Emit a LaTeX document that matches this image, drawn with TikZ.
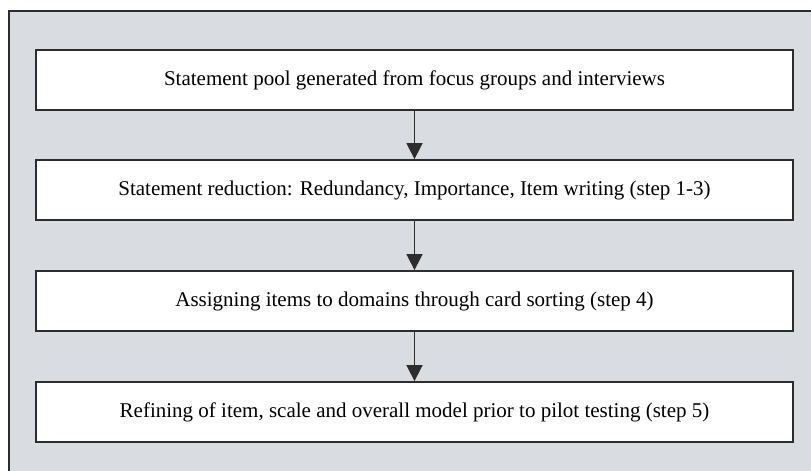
\documentclass[tikz,border=0pt]{standalone}
\usepackage{fontspec}
\setmainfont{Liberation Serif}
\usetikzlibrary{arrows.meta}
\definecolor{panelgray}{RGB}{217,220,224}
\definecolor{linegray}{RGB}{45,45,45}
\begin{document}
\begin{tikzpicture}[x=1pt,y=-1pt,
  stepbox/.style={draw=linegray,line width=1.8pt,fill=white,minimum width=757pt,
    minimum height=60pt,inner sep=0pt,font=\fontsize{21}{24}\selectfont},
  flow/.style={draw=linegray,line width=1.6pt,-{Triangle[length=16pt,width=16pt]}}]
  \useasboundingbox (0,0) rectangle (811,471);
  % background panel, open at the right and bottom
  \fill[panelgray] (9,11) rectangle (811,471);
  \draw[linegray,line width=1.8pt] (9,471) -- (9,11) -- (811,11);
  % process steps
  \node[stepbox] (s1) at (414.5,80) {Statement pool generated from focus groups and interviews};
  \node[stepbox] (s2) at (414.5,190) {Statement reduction: Redundancy, Importance, Item writing (step 1-3)};
  \node[stepbox] (s3) at (414.5,301) {Assigning items to domains through card sorting (step 4)};
  \node[stepbox] (s4) at (414.5,412) {Refining of item, scale and overall model prior to pilot testing (step 5)};
  \draw[flow] (s1) -- (s2);
  \draw[flow] (s2) -- (s3);
  \draw[flow] (s3) -- (s4);
\end{tikzpicture}
\end{document}
